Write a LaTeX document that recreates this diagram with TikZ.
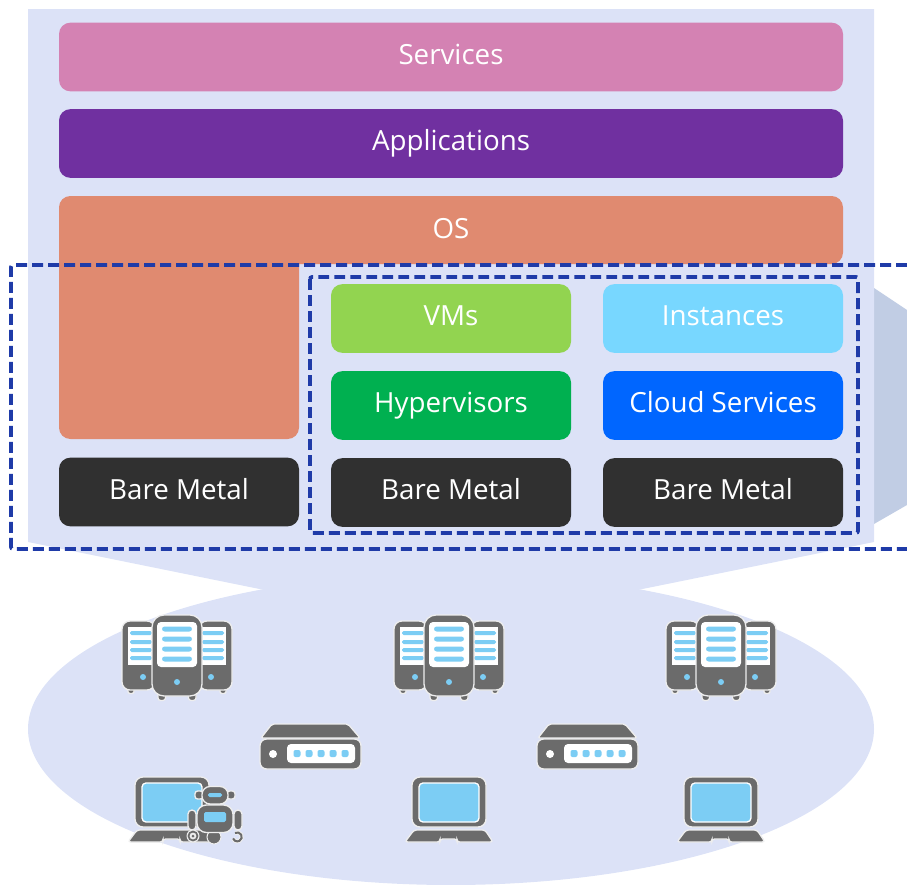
\documentclass[tikz,border=0pt]{standalone}
\usepackage{fontspec}
\setmainfont{Open Sans}
\definecolor{panel}{HTML}{DCE2F7}
\definecolor{sidegrey}{HTML}{C1CDE4}
\definecolor{dashblue}{HTML}{1F3BA8}
\definecolor{icongrey}{HTML}{6B6B6B}
\definecolor{iconblue}{HTML}{7CCDF4}
\definecolor{halo}{HTML}{EEEEEE}
\definecolor{osc}{HTML}{E08A70}
\tikzset{
 x=0.75pt,y=-0.75pt,
 labeltext/.style={text=white,font=\fontsize{20.8}{24}\selectfont,text height=13.4pt,text depth=2.6pt,inner sep=0pt},
 layerbox/.style={labeltext,rounded corners=8.5pt,minimum width=180pt,minimum height=51.5pt,anchor=center},
 dashframe/.style={draw=dashblue,line width=2.8pt,dash pattern=on 8.2pt off 3.8pt,rounded corners=1.5pt},
 ig/.style={fill=icongrey,draw=halo,line width=1pt,rounded corners=3pt},
 ib/.style={fill=iconblue,rounded corners=1.2pt},
 iw/.style={fill=white},
 pics/server/.style={code={
  \foreach \s in {-1,1}{
   \draw[ig,rounded corners=1.5pt] (\s*43,70) rectangle (\s*49,78.500);
   \draw[ig,rounded corners=6pt] (\s*22,6) rectangle (\s*55,75);
   \fill[iw] (\s*22,12) rectangle (\s*49,50);
   \foreach \yy in {18,27,35,43}{\fill[ib] (\s*25,\yy-2) rectangle (\s*47,\yy+2);}
   \fill[iconblue] (\s*34,62) circle[radius=3];
   \draw[ig,rounded corners=2pt] (\s*11.5,74) rectangle (\s*19,85.500);
  }
  \draw[ig,rounded corners=9pt] (-25,0) rectangle (25,81);
  \fill[iw,rounded corners=3pt] (-20,7) rectangle (20,52);
  \foreach \yy in {14,24,34,44}{\fill[ib,rounded corners=2pt] (-15,\yy-2.5) rectangle (15,\yy+2.5);}
  \fill[iconblue] (0,67) circle[radius=3];
 }},
 pics/router/.style={code={
  \draw[ig,rounded corners=1.5pt] (-49,14)--(-38,0)--(38,0)--(50,14)--cycle;
  \draw[ig,rounded corners=5pt] (-50,15) rectangle (51,45);
  \fill[white] (-37,30) circle[radius=4];
  \fill[iw,rounded corners=3pt] (-23,20) rectangle (45,39);
  \foreach \xx in {-13,-1,11,23,35}{\fill[ib,rounded corners=1.5pt] (\xx-3.5,26) rectangle (\xx+3.5,33);}
 }},
 pics/laptop/.style={code={
  \draw[ig,rounded corners=6pt] (-37,0) rectangle (37,50);
  \fill[iconblue,draw=white,line width=1pt,rounded corners=3pt] (-30,6) rectangle (30,45);
  \draw[ig,rounded corners=2pt] (-35,53)--(36,53)--(44,65)--(8,65)--(8,62)--(-9,62)--(-9,65)--(-44,65)--cycle;
 }},
 pics/robot/.style={code={
  \draw[ig,rounded corners=2pt] (-20,-1) rectangle (-12,7);
  \draw[ig,rounded corners=2pt] (12,-1) rectangle (20,7);
  \draw[ig,rounded corners=6pt] (-13,-5.500) rectangle (13,12);
  \fill[ib] (-7,1) rectangle (7,5);
  \draw[ig] (-27,18) rectangle (-19,38);
  \draw[ig] (19,18) rectangle (27,38);
  \draw[fill=icongrey,draw=halo,line width=0.8pt] (-1,45) circle[radius=7];
  \draw[ig,rounded corners=7pt] (-18,13) rectangle (18,40.500);
  \fill[ib] (-11,20) rectangle (11,30);
  \fill[halo] (-22,44) circle[radius=6.500];
  \draw[icongrey,line width=1.3pt] (-22,44) circle[radius=4.500];
  \fill[icongrey] (-22,44) circle[radius=1.500];
  \draw[halo,line width=3pt] (20,41) arc[start angle=-120,end angle=-120+280,radius=4.500];
  \draw[icongrey,line width=1.5pt] (20,41) arc[start angle=-120,end angle=-120+280,radius=4.500];
 }}
}
\begin{document}
\begin{tikzpicture}
\useasboundingbox (0,0) rectangle (907,885);
% background
\fill[panel] (451,729) ellipse[x radius=423,y radius=156];
\fill[sidegrey] (874,288)--(907,310)--(907,505)--(874,524)--cycle;
\fill[panel] (28,9)--(874,9)--(874,542)--(640,589.500)--(262,589.500)--(28,542)--cycle;
% OS block
\fill[osc,rounded corners=8.5pt] (59,196) rectangle (843,264);
\fill[osc,rounded corners=8.5pt] (59,230) rectangle (299,439);
\fill[osc] (280,240) rectangle (299,264);
% layers
\node[layerbox,minimum width=588pt,fill={rgb,255:red,212;green,130;blue,179}] (services) at (451,57) {Services};
\node[layerbox,minimum width=588pt,fill={rgb,255:red,112;green,48;blue,160}] (apps) at (451,143.500) {Applications};
\node[labeltext] (os) at (451,231) {OS};
\node[layerbox,fill={rgb,255:red,146;green,212;blue,80}] (vms) at (451,318.500) {VMs};
\node[layerbox,fill={rgb,255:red,120;green,215;blue,255}] (inst) at (723,318.500) {Instances};
\node[layerbox,fill={rgb,255:red,0;green,176;blue,80}] (hyp) at (451,405.500) {Hypervisors};
\node[layerbox,fill={rgb,255:red,0;green,102;blue,255}] (cloud) at (723,405.500) {Cloud Services};
\node[layerbox,fill={rgb,255:red,48;green,48;blue,48}] (bm1) at (179,492) {Bare Metal};
\node[layerbox,fill={rgb,255:red,48;green,48;blue,48}] (bm2) at (451,492.500) {Bare Metal};
\node[layerbox,fill={rgb,255:red,48;green,48;blue,48}] (bm3) at (723,492.500) {Bare Metal};
% dashed frames
\coordinate (oa) at (907,265);
\coordinate (ob) at (11,265);
\coordinate (oc) at (11,549);
\coordinate (od) at (907,549);
\draw[dashframe] (oa)--(ob)--(oc)--(od);
\coordinate (ia) at (310,277);
\coordinate (ib) at (858,533);
\draw[dashframe] (ia) rectangle (ib);
% icons
\pic at (177,615) {server};
\pic at (449,615) {server};
\pic at (721,615) {server};
\pic at (310,724) {router};
\pic at (587,724) {router};
\pic at (172,777) {laptop};
\pic at (449,777) {laptop};
\pic at (721,777) {laptop};
\pic at (215,792) {robot};
\end{tikzpicture}
\end{document}
